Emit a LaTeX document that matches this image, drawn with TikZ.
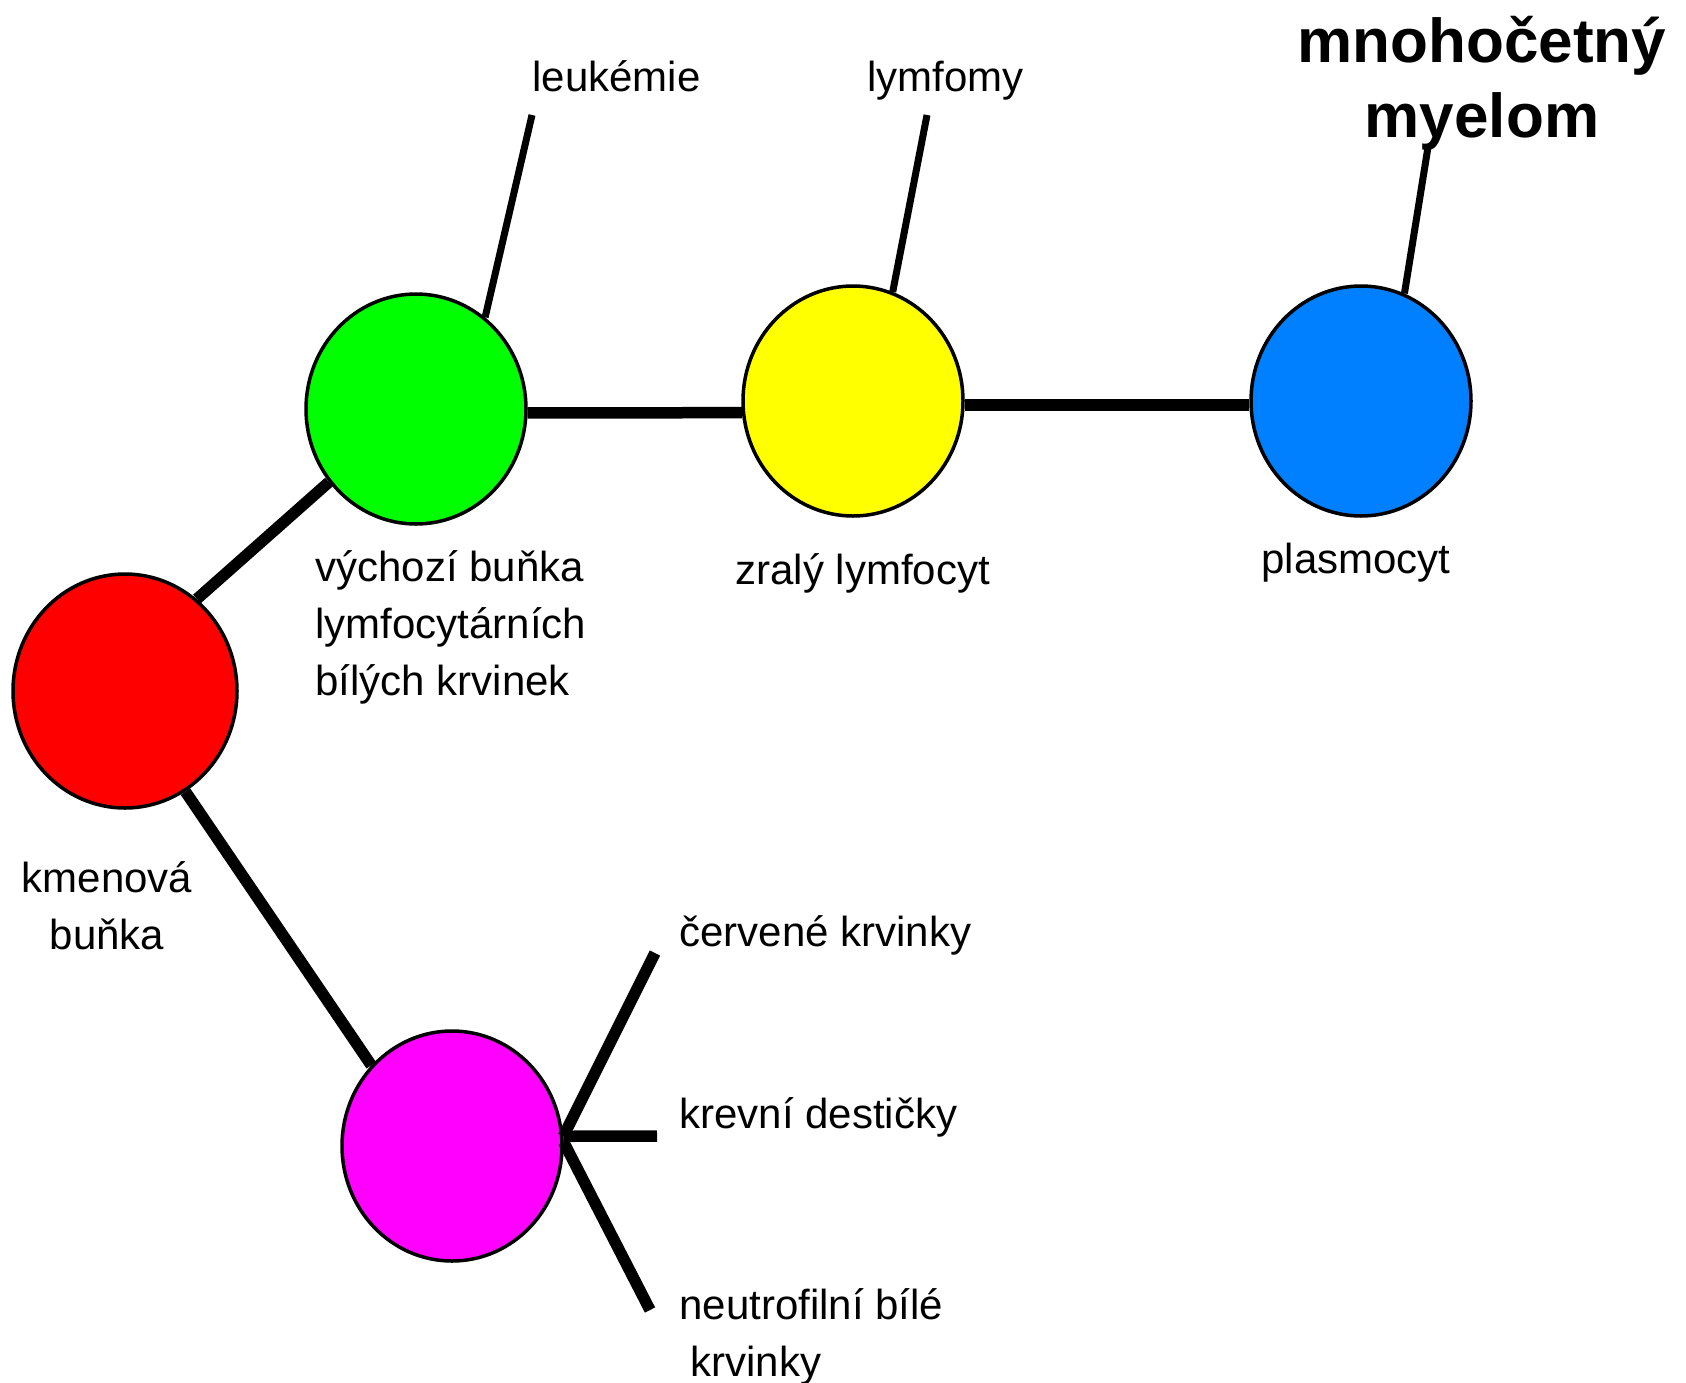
\documentclass[tikz,border=0pt]{standalone}
\usepackage{fontspec}
\setmainfont{Liberation Sans}
\usetikzlibrary{shapes.geometric}

\definecolor{cellred}{RGB}{255,0,0}
\definecolor{cellgreen}{RGB}{0,255,0}
\definecolor{cellyellow}{RGB}{255,255,0}
\definecolor{cellblue}{RGB}{0,128,255}
\definecolor{cellmagenta}{RGB}{255,0,255}

\begin{document}
\begin{tikzpicture}[x=0.5pt, y=-0.5pt,
    cell/.style={ellipse, draw, line width=1.75pt, inner sep=0pt, minimum width=110pt, minimum height=115pt},
    lbl/.style={inner sep=0pt, anchor=base west, align=left, font=\fontsize{21}{28.5}\selectfont},
    stem/.style={line width=5.75pt},
    pointer/.style={line width=3.5pt}]
    \path[use as bounding box, fill=white] (0,0) rectangle (1686,1382);

    \node[cell, fill=cellred, minimum width=112pt, minimum height=117pt] (c1) at (125,691) {};
    \node[cell, fill=cellgreen] (c2) at (416,409) {};
    \node[cell, fill=cellyellow] (c3) at (853,401) {};
    \node[cell, fill=cellblue] (c4) at (1361,401) {};
    \node[cell, fill=cellmagenta] (c5) at (452,1146) {};

    % popisky (u viceradkovych je base na poslednim radku)
    \node[lbl] (t1) at (532,91) {leukémie};
    \node[lbl] (t2) at (867,91) {lymfomy};
    \node[lbl, anchor=base, align=center, font=\bfseries\fontsize{31}{37.5}\selectfont] (t3) at (1482,137) {mnohočetný\\myelom};
    \node[lbl] (t4) at (315,695) {výchozí buňka\\lymfocytárních\\bílých krvinek};
    \node[lbl] (t5) at (735,584) {zralý lymfocyt};
    \node[lbl] (t6) at (1261,573) {plasmocyt};
    \node[lbl, anchor=base, align=center] (t7) at (107,949) {kmenová\\buňka};
    \node[lbl] (t8) at (679,946) {červené krvinky};
    \node[lbl] (t9) at (679,1128) {krevní destičky};
    \node[lbl] (t10) at (679,1376) {neutrofilní bílé\\\hspace*{5.5pt}krvinky};

    \draw[stem] (c1.52) -- (c2.220);
    \draw[stem] (c1.-59) -- (c5.135);
    \draw[stem] (c2.-2) -- (c3.186);
    \draw[stem] (c3.-2) -- (c4.182);
    \draw[pointer] (c2.53) -- ([shift={(0,24)}]t1.base west);
    \draw[pointer] (c3.70) -- ([shift={(60,24)}]t2.base west);
    \draw[pointer] (c4.68) -- ([shift={(-54,10)}]t3.base);
    \draw[stem] (c5.5) -- ([shift={(-24,7)}]t8.base west);
    \draw[stem] (c5.5) -- ([shift={(-22,8)}]t9.base west);
    \draw[stem] (c5.2) -- ([shift={(-29,-66)}]t10.base west);
\end{tikzpicture}
\end{document}
